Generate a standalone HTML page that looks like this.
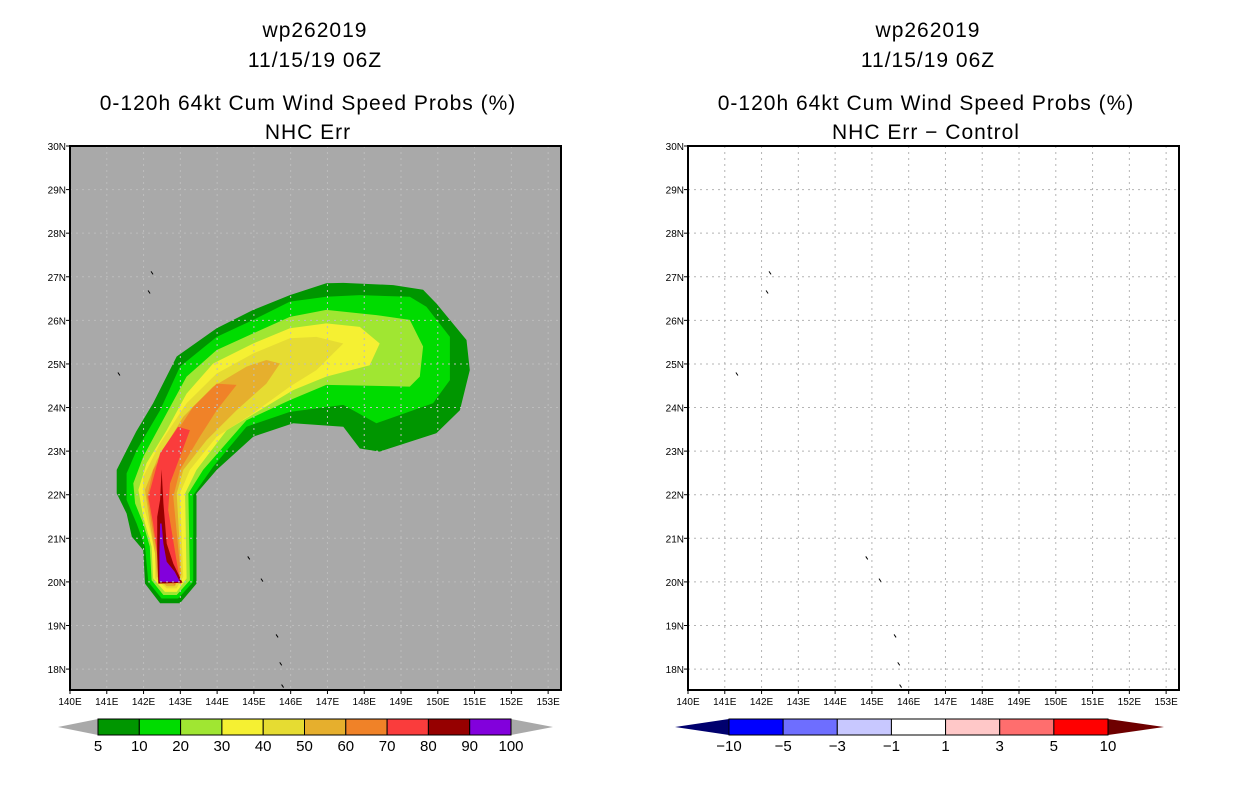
<!DOCTYPE html>
<html><head><meta charset="utf-8"><style>
html,body{margin:0;padding:0;background:#fff;}
svg{display:block;font-family:"Liberation Sans",sans-serif;}
.t{font-size:21px;text-anchor:middle;fill:#000;letter-spacing:1px;}
.ax{font-size:10px;fill:#000;}
.cb{font-size:15px;fill:#000;text-anchor:middle;}
</style></head><body>
<svg id="s" width="1236" height="800" viewBox="0 0 1236 800">
<g>
<text class="t" x="315" y="37">wp262019</text>
<text class="t" x="315" y="67">11/15/19 06Z</text>
<text class="t" x="308" y="110">0-120h 64kt Cum Wind Speed Probs (%)</text>
<text class="t" x="308" y="139">NHC Err</text>
</g>
<g>
<text class="t" x="928" y="37">wp262019</text>
<text class="t" x="928" y="67">11/15/19 06Z</text>
<text class="t" x="926" y="110">0-120h 64kt Cum Wind Speed Probs (%)</text>
<text class="t" x="926" y="139">NHC Err &#8722; Control</text>
</g>
<g id="L"></g>
<g id="R"></g>
<g id="CB1"></g>
<g id="CB2"></g>
</svg>
<script>
const levels=[5,10,20,30,40,50,60,70,80,90,100];
const levelColors=["#009600","#00dc00","#a0e632","#f5f032","#e6dc32","#e6af2d","#f08228","#fa3c3c","#960000","#8200dc"];
const diffLevels=[-10,-5,-3,-1,1,3,5,10];
const diffColors=["#0000ff","#6e6eff","#c8c8ff","#ffffff","#ffc8c8","#ff6e6e","#ff0000"];
const P5=[[142.04,19.96],[142.45,19.51],[142.99,19.51],[143.44,19.96],[143.44,22.03],[143.99,22.57],[144.98,23.33],[146.07,23.64],[147.43,23.56],[147.88,23.06],[148.42,22.99],[149.96,23.41],[150.60,23.94],[150.87,24.86],[150.78,25.55],[149.96,26.39],[149.60,26.70],[148.79,26.81],[147.43,26.86],[146.97,26.85],[145.98,26.58],[144.98,26.24],[143.99,25.82],[142.90,25.17],[142.26,24.10],[141.80,23.45],[141.54,23.02],[141.27,22.57],[141.27,22.03],[141.54,21.57],[141.68,21.04],[141.99,20.73]];
const P10=[[142.13,20.00],[142.49,19.62],[142.94,19.62],[143.35,20.00],[143.35,21.99],[143.89,22.64],[144.80,23.56],[145.98,23.90],[147.43,24.06],[148.33,23.64],[149.87,24.10],[150.33,24.63],[150.33,25.62],[149.69,26.31],[149.24,26.54],[147.88,26.58],[146.97,26.54],[145.98,26.43],[144.98,26.01],[143.99,25.62],[142.99,24.94],[142.45,23.94],[141.81,23.02],[141.54,22.49],[141.54,21.88],[141.81,21.34],[142.04,20.81]];
const P20=[[142.22,20.04],[142.54,19.70],[142.90,19.70],[143.26,20.04],[143.22,22.03],[143.62,22.57],[144.80,23.71],[145.98,24.17],[146.97,24.52],[149.24,24.48],[149.51,24.71],[149.60,25.40],[149.24,26.01],[148.33,26.12],[146.97,26.24],[145.98,26.08],[144.98,25.70],[143.99,25.32],[143.17,24.71],[142.63,23.87],[141.99,22.87],[141.72,22.26],[141.77,21.80],[141.99,21.34],[142.17,20.81]];
const P30=[[142.26,20.08],[142.58,19.77],[142.90,19.77],[143.17,20.08],[143.13,22.03],[143.44,22.57],[144.26,23.48],[145.16,23.94],[146.07,24.40],[146.97,24.71],[148.15,24.97],[148.42,25.47],[147.88,25.85],[146.97,25.93],[145.98,25.82],[144.98,25.47],[143.89,25.01],[143.17,24.32],[142.63,23.48],[142.08,22.72],[141.86,22.11],[141.99,21.49],[142.22,20.81]];
const P40=[[142.31,20.08],[142.63,19.85],[142.90,19.85],[143.08,20.12],[142.99,22.03],[143.26,22.57],[143.99,23.33],[144.98,23.87],[145.98,24.48],[146.70,24.86],[147.43,25.47],[146.70,25.62],[145.98,25.59],[144.98,25.24],[143.99,24.78],[143.17,24.10],[142.45,23.18],[141.99,22.41],[141.99,21.80],[142.17,21.19],[142.31,20.66]];
const P50=[[142.36,20.12],[142.63,19.90],[142.85,19.90],[143.03,20.16],[142.90,22.03],[143.08,22.57],[143.71,23.25],[144.53,23.94],[145.34,24.55],[145.71,25.01],[145.34,25.09],[144.80,24.94],[143.89,24.48],[143.08,23.79],[142.36,22.79],[142.04,22.11],[142.17,21.34],[142.31,20.66]];
const P60=[[142.40,20.13],[142.85,19.93],[143.01,20.18],[142.81,21.95],[142.99,22.57],[143.53,23.33],[143.99,23.94],[144.53,24.52],[143.99,24.55],[143.35,24.02],[142.81,23.33],[142.26,22.57],[142.10,21.95],[142.22,21.34],[142.36,20.66]];
const P70=[[142.40,20.04],[143.03,19.96],[142.94,20.27],[142.67,21.65],[142.72,22.26],[142.99,22.87],[143.26,23.48],[142.94,23.56],[142.45,22.95],[142.13,21.95],[142.26,21.34],[142.37,20.66]];
const P80=[[142.40,19.96],[143.06,19.98],[142.81,20.42],[142.63,20.88],[142.54,21.80],[142.49,22.58],[142.45,21.88],[142.37,21.49],[142.37,20.66]];
const P90=[[142.43,20.00],[142.99,20.00],[142.85,20.23],[142.63,20.46],[142.54,20.88],[142.49,21.34],[142.45,21.34],[142.43,20.66]];
const contours=[P5,P10,P20,P30,P40,P50,P60,P70,P80,P90];
const islands=[[142.23,27.09],[142.15,26.65],[141.33,24.77],[144.86,20.55],[145.22,20.04],[145.63,18.76],[145.73,18.12],[145.78,17.61]];
const lonTicks=[140,141,142,143,144,145,146,147,148,149,150,151,152,153];
const latTicks=[18,19,20,21,22,23,24,25,26,27,28,29,30];

const NS="http://www.w3.org/2000/svg";
function mk(p,t,a){const e=document.createElementNS(NS,t);for(const k in a)e.setAttribute(k,a[k]);p.appendChild(e);return e;}
const LON0=140,LON1=153.35,LAT0=17.52,LAT1=30,PW=491,PH=544,TOP=146;
function panel(g,x0,filled){
  const xs=lon=>x0+(lon-LON0)/(LON1-LON0)*PW;
  const ys=lat=>TOP+(LAT1-lat)/(LAT1-LAT0)*PH;
  const bg=mk(g,'rect',{x:x0,y:TOP,width:PW,height:PH,fill:filled?'#a9a9a9':'#fff'});
  
  
  if(filled){
    contours.forEach((poly,i)=>{
      const p=mk(g,'polygon',{points:poly.map(q=>xs(q[0]).toFixed(1)+','+ys(q[1]).toFixed(1)).join(' '),fill:levelColors[i]});
      
      
    });
  }
  const gc=filled?'#bdbdbd':'#b4b4b4';
  lonTicks.forEach(l=>{const x=xs(l);
    if(l>LON0){const ln=mk(g,'line',{x1:x,x2:x,y1:TOP,y2:TOP+PH,stroke:gc,'stroke-dasharray':'2,4','stroke-width':1});
    }
    mk(g,'line',{x1:x,x2:x,y1:TOP+PH,y2:TOP+PH+4,stroke:'#000'});
    const t=mk(g,'text',{x:x,y:TOP+PH+15,class:'ax','text-anchor':'middle'});t.textContent=l+'E';
    
  });
  latTicks.forEach(l=>{const y=ys(l);
    if(l<LAT1){const ln=mk(g,'line',{x1:x0,x2:x0+PW,y1:y,y2:y,stroke:gc,'stroke-dasharray':'2,4','stroke-width':1});
    }
    mk(g,'line',{x1:x0-4,x2:x0,y1:y,y2:y,stroke:'#000'});
    const t=mk(g,'text',{x:x0-4,y:y+4,class:'ax','text-anchor':'end'});t.textContent=l+'N';
    
  });
  islands.forEach(q=>{const c=mk(g,'line',{x1:xs(q[0])-1,y1:ys(q[1])-1.5,x2:xs(q[0])+1,y2:ys(q[1])+1.5,stroke:'#000','stroke-width':1});
    });
  const fr=mk(g,'rect',{x:x0,y:TOP,width:PW,height:PH,fill:'none',stroke:'#000','stroke-width':2});
  
}
panel(document.getElementById('L'),70,true);
panel(document.getElementById('R'),688,false);

function colorbar(g,x0,x1,tl,tr,cols,labs,lc,rc){
  const y0=719,h=16,w=(x1-x0)/cols.length;
  const a=mk(g,'polygon',{points:`${tl},${y0+h/2} ${x0},${y0} ${x0},${y0+h}`,fill:lc});
  
  const b=mk(g,'polygon',{points:`${tr},${y0+h/2} ${x1},${y0} ${x1},${y0+h}`,fill:rc});
  
  cols.forEach((c,i)=>{const r=mk(g,'rect',{x:x0+i*w,y:y0,width:w,height:h,fill:c,stroke:'#000','stroke-width':1});
    });
  labs.forEach((l,i)=>{const t=mk(g,'text',{x:x0+i*w,y:y0+h+16,class:'cb'});t.textContent=String(l).replace('-','\u2212');
    });
}
colorbar(document.getElementById('CB1'),98,511,58,553,levelColors,levels,'#a9a9a9','#a9a9a9');
colorbar(document.getElementById('CB2'),729,1108,675,1164,diffColors,diffLevels,'#00006e','#6e0000');
</script>
</body></html>
